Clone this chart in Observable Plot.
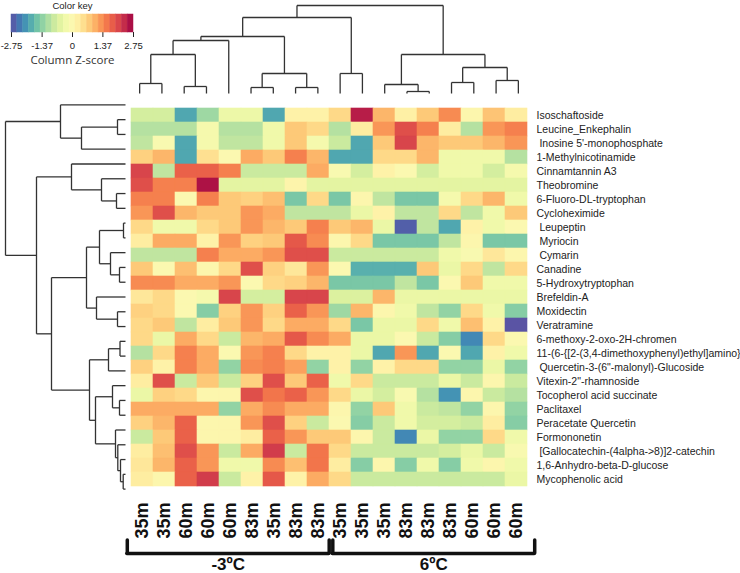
<!DOCTYPE html>
<html>
<head>
<meta charset="utf-8">
<script src="https://cdn.jsdelivr.net/npm/d3@7"></script>
<script src="https://cdn.jsdelivr.net/npm/@observablehq/plot@0.6"></script>
<style>
  html, body { margin: 0; padding: 0; background: #fff; }
  #chart { position: relative; width: 740px; height: 573px; overflow: hidden; }
  #chart svg { position: absolute; max-width: none; }
</style>
</head>
<body>
<div id="chart"></div>
<script>
// ---------- data ----------
const colLabels = ["35m","35m","60m","60m","60m","83m","35m","83m","83m",
                   "35m","35m","35m","83m","83m","83m","60m","60m","60m"];

const rowNames = [
  "Isoschaftoside",
  "Leucine_Enkephalin",
  " Inosine 5'-monophosphate",
  "1-Methylnicotinamide",
  "Cinnamtannin A3",
  "Theobromine",
  "6-Fluoro-DL-tryptophan",
  "Cycloheximide",
  " Leupeptin",
  " Myriocin",
  " Cymarin",
  "Canadine",
  "5-Hydroxytryptophan",
  "Brefeldin-A",
  "Moxidectin",
  "Veratramine",
  "6-methoxy-2-oxo-2H-chromen",
  "11-(6-{[2-(3,4-dimethoxyphenyl)ethyl]amino}",
  " Quercetin-3-(6\"-malonyl)-Glucoside",
  "Vitexin-2\"-rhamnoside",
  "Tocopherol acid succinate",
  "Paclitaxel",
  "Peracetate Quercetin",
  "Formononetin",
  " [Gallocatechin-(4alpha->8)]2-catechin",
  "1,6-Anhydro-beta-D-glucose",
  "Mycophenolic acid"
];

// column Z-scores, one list per row (in display order)
const zScores = [
  [-0.7,-0.7,-1.9,-1.2,-0.35,-0.35,-1.9,0.2,0.2,0.6,2.5,1.0,0.25,0.8,1.4,0.1,0.85,0.3],
  [-1.0,-1.0,-1.0,-0.2,-1.0,-1.0,-0.3,0.8,0.6,-1.0,0.3,1.3,2.0,1.5,0.3,-1.0,1.3,1.5],
  [-0.9,-0.1,-1.9,-0.2,-0.9,-0.9,-0.3,0.8,-0.2,-0.8,-1.9,0.8,2.1,1.0,0.8,0.8,1.0,1.3],
  [0.7,1.0,-1.9,0.5,0.0,1.1,0.8,1.5,1.0,-1.9,-1.9,0.6,0.6,1.0,-0.3,-0.3,-0.3,-1.0],
  [2.1,-0.9,1.8,1.8,1.5,-0.8,-0.8,-0.8,1.1,-0.1,-0.7,0.2,0.0,-0.7,-0.3,-0.3,-0.7,-0.2],
  [2.0,1.5,1.5,2.6,-0.5,-0.5,-0.5,0.15,-0.5,-0.5,-0.5,-0.5,-0.5,-0.5,-0.5,-0.5,-0.5,-0.5],
  [1.5,1.5,0.0,1.5,0.8,0.7,0.9,-1.5,0.6,-1.5,0.1,-0.9,-1.5,-1.5,-0.2,0.6,1.0,-0.3],
  [1.3,2.0,1.0,0.8,0.8,1.3,1.1,-0.9,-0.9,-0.9,-0.4,0.2,-0.9,-0.9,0.6,-0.9,-0.3,0.8],
  [0.6,-0.3,-0.3,0.6,0.8,1.3,1.0,0.8,1.5,0.8,1.0,-0.4,-2.6,-0.9,-1.9,0.2,-0.3,0.0],
  [0.3,1.1,1.1,0.2,1.3,0.7,0.8,1.9,1.4,0.1,0.6,-1.5,-1.5,-1.5,-0.9,0.1,-1.5,-1.5],
  [-0.9,-0.9,-0.9,1.5,1.1,1.1,1.3,2.0,2.0,-0.8,-0.8,-0.8,-0.8,-0.8,-0.3,-0.1,0.4,0.1],
  [0.8,0.0,0.9,0.1,0.6,2.0,0.7,0.4,1.3,0.0,-1.8,-1.8,-1.8,0.8,-0.4,0.6,-0.9,0.6],
  [1.4,1.4,1.1,1.1,1.3,0.0,0.6,0.7,1.0,-1.5,-1.5,-1.5,-0.9,-1.5,0.0,0.8,-0.3,-0.3],
  [0.4,0.6,0.0,-0.2,2.1,-0.7,-0.7,2.1,2.1,-0.6,-0.6,1.0,-0.4,-0.4,-0.4,-0.4,-0.4,-0.4],
  [0.7,0.6,0.0,-1.4,0.7,1.3,0.7,1.8,1.3,-1.2,1.0,0.1,-0.3,-0.9,-1.3,0.6,-0.3,-1.4],
  [0.6,0.8,-0.9,0.3,0.8,1.3,0.6,1.1,1.1,0.6,-1.5,-0.4,-0.4,0.6,-0.3,0.9,0.2,-2.7],
  [0.6,-0.4,1.1,0.6,-0.8,1.0,1.1,1.9,1.4,1.1,-0.4,-0.4,0.0,-0.8,-1.4,-2.2,0.6,0.0],
  [-1.0,0.6,1.5,1.1,0.0,1.3,1.5,0.6,0.2,0.2,-0.4,-1.9,1.3,-1.9,0.0,-1.9,0.2,-0.3],
  [0.7,0.2,1.5,1.1,-1.3,1.4,1.5,1.2,-1.3,0.2,-1.3,0.2,0.6,0.6,-1.3,-1.3,-0.4,-1.3],
  [0.3,2.0,-0.8,0.8,-0.8,0.7,2.0,0.8,1.8,-0.3,0.6,-0.8,-0.8,-0.8,-0.4,-0.8,0.1,-0.8],
  [-0.4,0.7,0.6,0.1,0.1,2.0,1.6,1.8,1.3,0.6,-0.4,-0.7,-0.1,-1.0,-2.1,0.1,-0.8,-1.0],
  [1.1,1.1,1.1,1.1,-1.3,1.1,1.4,1.1,1.1,0.1,-1.3,0.8,-0.3,-0.8,-0.9,-1.3,0.1,-1.3],
  [0.7,1.0,1.8,0.1,0.1,1.3,2.0,0.7,-0.8,0.0,-1.4,-0.8,-0.3,-0.7,-0.7,-0.8,0.3,-1.4],
  [-0.8,0.8,1.8,0.1,0.1,0.3,1.8,1.3,0.8,0.8,0.1,-0.8,-2.2,-0.4,-1.3,-1.3,0.6,-0.3],
  [0.3,0.9,2.0,1.3,-0.8,1.1,2.2,-0.8,1.6,0.6,-0.8,-0.8,-0.8,-0.8,-0.7,-0.4,-0.8,-0.1],
  [0.4,1.0,1.8,1.3,-0.3,-0.3,1.4,0.9,1.6,0.3,-1.4,0.1,-1.4,-0.3,-1.4,-0.3,0.1,-0.3],
  [0.3,0.1,1.8,2.2,-0.8,0.2,1.9,0.2,1.1,0.6,-0.8,-0.8,-0.8,-0.8,-0.8,-0.8,-0.8,-0.4]
];

// hclust-style merges: negative = leaf (-(index+1)), positive = earlier merge (1-based); third = height
const colMerges = [
  [-1,-2,10],[-3,-4,7],[1,2,39],[3,-5,53],[-6,-7,6],[-8,-9,6],[5,6,20],[4,7,57],
  [-10,-11,20],[8,9,76],[-13,-14,2],[-12,11,9],[-15,-16,11],[-17,-18,13],[13,14,26],
  [12,15,39],[10,16,88]
];
const rowMerges = [
  [-2,-3,8],[1,-4,44],[-1,2,65],[-7,-8,9],[-6,4,24],[-5,5,54],[-9,-10,2],[-12,-13,6],
  [-11,8,15],[7,9,26],[-15,-16,8],[-14,11,29],[10,12,39],[-17,-18,5.5],[14,-19,17],
  [-21,-22,6],[-20,16,13],[-26,-27,2.3],[-25,18,5],[-24,19,7.7],[-23,20,10],[17,21,30],
  [15,22,36],[13,23,74],[6,24,89],[3,25,120]
];

const keyTicks = [-2.75, -1.37, 0, 1.37, 2.75];
const groups = [
  {label: "-3ºC", from: 0, to: 9},
  {label: "6ºC", from: 9, to: 18}
];

// ---------- helpers ----------
const colorScale = {type: "linear", scheme: "spectral", reverse: true, domain: [-2.75, 2.75]};
const FONT = "'Liberation Sans', Arial, Helvetica, sans-serif";

function dendroSegments(merges) {
  const pos = [], ht = [], segs = [];
  const get = k => k < 0 ? {p: -k - 1 + 0.5, h: 0} : {p: pos[k - 1], h: ht[k - 1]};
  merges.forEach(([a, b, h]) => {
    const A = get(a), B = get(b);
    segs.push({p1: A.p, h1: A.h, p2: A.p, h2: h});
    segs.push({p1: A.p, h1: h, p2: B.p, h2: h});
    segs.push({p1: B.p, h1: B.h, p2: B.p, h2: h});
    pos.push((A.p + B.p) / 2); ht.push(h);
  });
  return segs;
}

const chart = document.getElementById("chart");
function place(svg, left, top) {
  svg.style.left = left + "px";
  svg.style.top = top + "px";
  chart.appendChild(svg);
}

// ---------- heatmap ----------
const colIds = colLabels.map((d, i) => "c" + i);
const cells = [];
rowNames.forEach((r, i) => colIds.forEach((c, j) => cells.push({row: r, col: c, z: zScores[i][j]})));

const heat = Plot.plot({
  width: 612, height: 476,
  marginLeft: 0, marginTop: 0, marginRight: 211, marginBottom: 77,
  x: {domain: colIds, padding: 0, axis: null},
  y: {domain: rowNames, padding: 0, axis: null},
  color: colorScale,
  style: {background: "transparent", fontFamily: FONT, overflow: "visible"},
  marks: [
    Plot.cell(cells, {x: "col", y: "row", fill: "z", stroke: "z", strokeWidth: 0.6, inset: 0}),
    Plot.text(rowNames, {y: d => d, text: d => d, frameAnchor: "right", textAnchor: "start",
      lineAnchor: "middle", dx: 7, fontSize: 10.5, fill: "#222"}),
    Plot.text(colIds, {x: d => d, text: (d, i) => colLabels[i], frameAnchor: "bottom",
      lineAnchor: "middle", rotate: -90, textAnchor: "end", dy: 6, fontSize: 18, fontWeight: "bold", fill: "#111"})
  ]
});
place(heat, 128, 97);

// ---------- column dendrogram ----------
const colSegs = dendroSegments(colMerges);
const colDendro = Plot.plot({
  width: 401, height: 97,
  marginLeft: 0, marginRight: 0, marginTop: 5, marginBottom: 4,
  x: {domain: [0, colLabels.length], axis: null},
  y: {domain: [0, 88], axis: null},
  style: {background: "transparent", overflow: "visible"},
  marks: [
    Plot.link(colSegs, {x1: "p1", y1: "h1", x2: "p2", y2: "h2", stroke: "#333", strokeWidth: 1.3})
  ]
});
place(colDendro, 128, 0);

// ---------- row dendrogram ----------
const rowSegs = dendroSegments(rowMerges);
const rowDendro = Plot.plot({
  width: 128, height: 399,
  marginLeft: 5, marginRight: 3, marginTop: 0, marginBottom: 0,
  x: {domain: [120, 0], axis: null},
  y: {domain: [0, rowNames.length], reverse: true, axis: null},
  style: {background: "transparent", overflow: "visible"},
  marks: [
    Plot.link(rowSegs, {x1: "h1", y1: "p1", x2: "h2", y2: "p2", stroke: "#333", strokeWidth: 1.3})
  ]
});
place(rowDendro, 0, 97);

// ---------- colour key ----------
const nSteps = 21;
const stepW = 5.5 / nSteps;
const stripes = d3.range(nSteps).map(i => ({
  x1: -2.75 + i * stepW, x2: -2.75 + (i + 1) * stepW, v: -2.75 + (i + 0.5) * stepW
}));
const key = Plot.plot({
  width: 145, height: 68,
  marginLeft: 11, marginRight: 12, marginTop: 14, marginBottom: 36,
  x: {domain: [-2.75, 2.75], ticks: keyTicks, tickFormat: d => String(d), tickSize: 5, tickPadding: 5, label: null},
  y: {domain: [0, 1], axis: null},
  color: colorScale,
  style: {background: "transparent", fontFamily: FONT, fontSize: "9.5px", color: "#222", overflow: "visible"},
  marks: [
    Plot.rect(stripes, {x1: "x1", x2: "x2", y1: 0, y2: 1, fill: "v", stroke: "v", strokeWidth: 0.5}),
    Plot.text(["Color key"], {frameAnchor: "top", lineAnchor: "middle", dy: -9, fontSize: 9.5, fill: "#222"}),
    Plot.text(["Column Z-score"], {frameAnchor: "bottom", lineAnchor: "middle", dy: 28, fontSize: 11.5,
      fontFamily: "'Open Sans', sans-serif", fill: "#333"})
  ]
});
place(key, 0, 0);

// ---------- group brackets ----------
const brackets = Plot.plot({
  width: 425, height: 43,
  marginLeft: 5, marginRight: 9, marginTop: 10, marginBottom: 20,
  x: {domain: [0, colLabels.length], axis: null},
  y: {domain: [0, 1], axis: null},
  style: {background: "transparent", fontFamily: FONT, overflow: "visible"},
  marks: [
    Plot.ruleY(groups, {y: 0, x1: "from", x2: "to", insetLeft: 1.8, insetRight: 1.8,
      stroke: "#111", strokeWidth: 3.5, strokeLinecap: "round"}),
    Plot.ruleX(groups, {x: "from", y1: 0, y2: 1, dx: 1.8, stroke: "#111", strokeWidth: 3.5, strokeLinecap: "round"}),
    Plot.ruleX(groups, {x: "to", y1: 0, y2: 1, dx: -1.8, stroke: "#111", strokeWidth: 3.5, strokeLinecap: "round"}),
    Plot.text(groups, {x: d => (d.from + d.to) / 2, text: "label", frameAnchor: "bottom", lineAnchor: "middle", dy: 11,
      fontSize: 17, fontWeight: "bold", fill: "#111"})
  ]
});
place(brackets, 120, 530);
</script>
</body>
</html>
